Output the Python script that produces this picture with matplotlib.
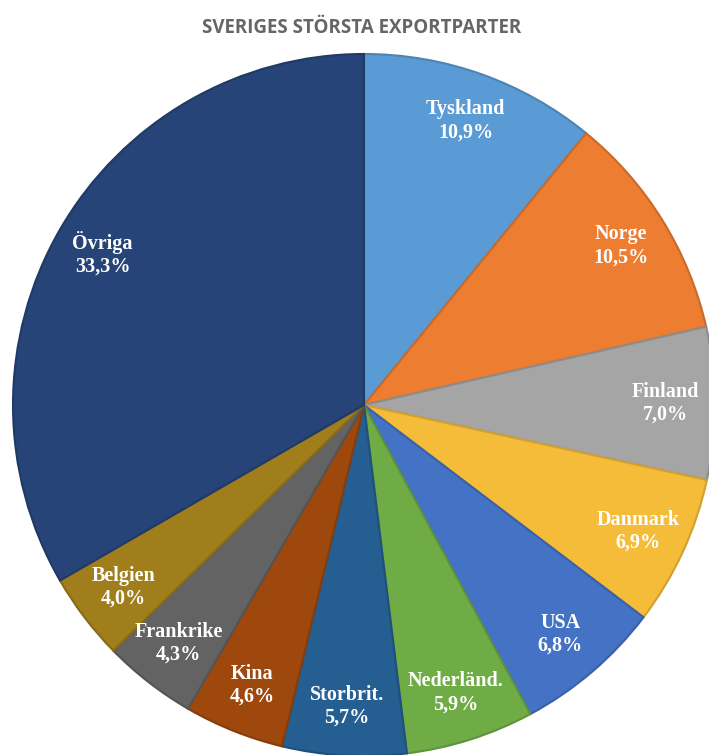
import matplotlib.pyplot as plt
import numpy as np
from matplotlib.colors import to_rgb

# Sveriges största exportpartner, andel av exporten (%)
partners = ['Tyskland', 'Norge', 'Finland', 'Danmark', 'USA', 'Nederländ.',
            'Storbrit.', 'Kina', 'Frankrike', 'Belgien', 'Övriga']
shares = [10.9, 10.5, 7.0, 6.9, 6.8, 5.9, 5.7, 4.6, 4.3, 4.0, 33.3]
colors = ['#5A9BD5', '#EC7D31', '#A5A5A5', '#F5BC3A', '#4472C4', '#6FAC46',
          '#255E91', '#9E480E', '#636363', '#A07E1C', '#264478']


def darker(c, f=0.85):
    return tuple(v * f for v in to_rgb(c))


def draw_pie():
    W, H = 709, 755
    fig = plt.figure(figsize=(W / 100, H / 100), dpi=100)
    # pie centre at (364, 405) px, radius 351 px
    r = 351
    ax = fig.add_axes([(364 - r) / W, (H - 405 - r) / H, 2 * r / W, 2 * r / H])

    wedges, _ = ax.pie(shares, colors=colors, startangle=90, counterclock=False,
                       radius=1.0, wedgeprops=dict(linewidth=1.5))
    for w, c in zip(wedges, colors):
        w.set_edgecolor(darker(c))

    for w, name, val in zip(wedges, partners, shares):
        ang = np.deg2rad((w.theta1 + w.theta2) / 2)
        x, y = 0.86 * np.cos(ang), 0.86 * np.sin(ang)
        txt = name + '\n' + f'{val:.1f}'.replace('.', ',') + '%'
        ax.text(x, y, txt, ha='center', va='center', color='white',
                fontsize=14.5, fontweight='bold', family='Liberation Serif',
                linespacing=1.2)

    ax.set_xlim(-1, 1)
    ax.set_ylim(-1, 1)
    ax.set_aspect('equal')
    ax.axis('off')

    fig.text(362 / W, 1 - 28 / H, 'SVERIGES STÖRSTA EXPORTPARTER', ha='center',
             va='center', fontsize=13.5, fontweight='bold', family='Open Sans',
             color='#666666')

    fig.savefig('out.png', dpi=100)


if __name__ == '__main__':
    draw_pie()
